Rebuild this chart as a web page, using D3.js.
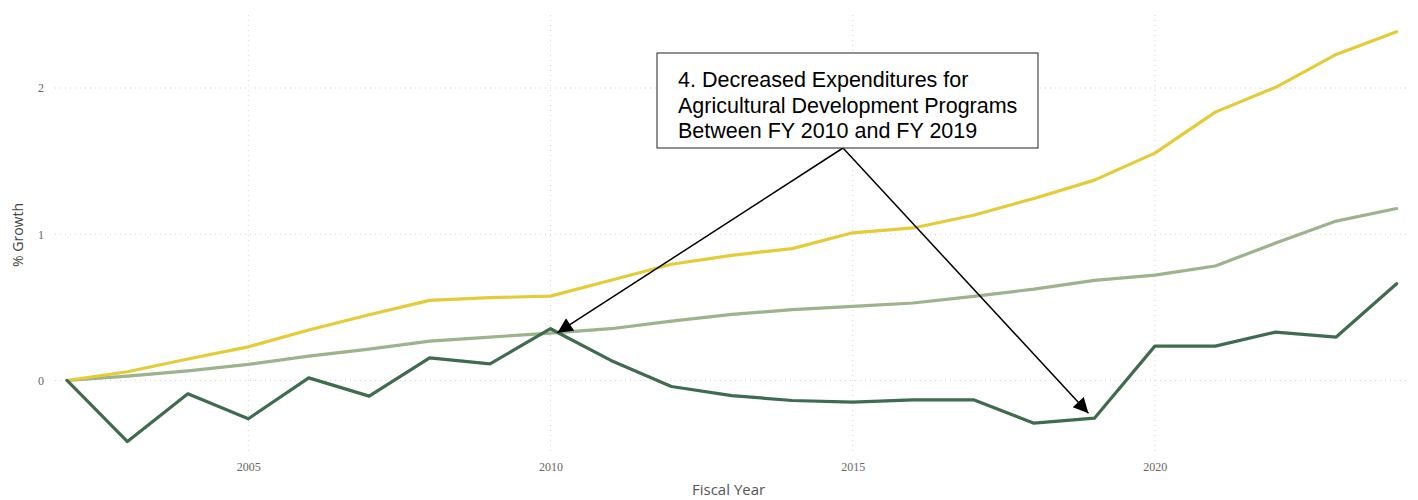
<!DOCTYPE html>
<html>
<head>
<meta charset="utf-8">
<script src="https://cdn.jsdelivr.net/npm/d3@7/dist/d3.min.js"></script>
<style>
  body { margin: 0; background: #fff; }
  svg { display: block; }
</style>
</head>
<body>
<svg id="chart" width="1418" height="500"></svg>
<script>
  var years = d3.range(2002, 2025);
  // three growth series
  var yellowSeries = [0, 0.06, 0.147, 0.23, 0.345, 0.45, 0.548, 0.566, 0.577, 0.685, 0.795, 0.856, 0.902, 1.01, 1.043, 1.13, 1.245, 1.37, 1.555, 1.835, 2.005, 2.23, 2.385];
  var lightSeries = [0, 0.03, 0.066, 0.11, 0.167, 0.215, 0.269, 0.297, 0.324, 0.354, 0.406, 0.452, 0.484, 0.507, 0.53, 0.575, 0.625, 0.685, 0.72, 0.783, 0.94, 1.09, 1.176];
  var darkSeries = [0, -0.418, -0.091, -0.262, 0.018, -0.107, 0.155, 0.114, 0.354, 0.137, -0.041, -0.103, -0.137, -0.148, -0.132, -0.132, -0.292, -0.258, 0.235, 0.235, 0.331, 0.297, 0.662];
  var xTicks = [2005, 2010, 2015, 2020];
  var yTicks = [0, 1, 2];
  var noteLines = ["4. Decreased Expenditures for", "Agricultural Development Programs", "Between FY 2010 and FY 2019"];

  var svg = d3.select("#chart");
  var x = d3.scaleLinear().domain([2002, 2024]).range([67, 1396.6]);
  var y = d3.scaleLinear().domain([-0.5, 2.5]).range([453.6, 14.9]);

  var grid = svg.append("g");
  grid.selectAll(".hg").data(yTicks).enter().append("line")
    .attr("x1", 55).attr("x2", 1408)
    .attr("y1", function(d){return y(d);}).attr("y2", function(d){return y(d);})
    .attr("stroke", "#d4d4d4").attr("stroke-width", 1).attr("stroke-dasharray", "1,4");
  grid.selectAll(".vg").data(xTicks).enter().append("line")
    .attr("x1", function(d){return x(d);}).attr("x2", function(d){return x(d);})
    .attr("y1", 15).attr("y2", 452)
    .attr("stroke", "#d4d4d4").attr("stroke-width", 1).attr("stroke-dasharray", "1,4");

  var xAxis = svg.append("g").attr("transform", "translate(0,452)")
    .call(d3.axisBottom(x).tickValues(xTicks).tickFormat(d3.format("d")).tickSize(0).tickPadding(10));
  var yAxis = svg.append("g").attr("transform", "translate(50,0)")
    .call(d3.axisLeft(y).tickValues(yTicks).tickFormat(d3.format("d")).tickSize(0).tickPadding(6));
  [xAxis, yAxis].forEach(function(a) {
    a.select(".domain").remove();
    a.selectAll("text").attr("font-family", "'Liberation Serif', 'DejaVu Serif', serif")
      .attr("font-size", 12).attr("fill", "#666");
  });

  svg.append("text").attr("transform", "translate(23,235) rotate(-90)")
    .attr("text-anchor", "middle").attr("font-family", "'Open Sans', 'Noto Sans', sans-serif")
    .attr("font-size", 14).attr("fill", "#444").text("% Growth");
  svg.append("text").attr("x", 692).attr("y", 495)
    .attr("font-family", "'Open Sans', 'Noto Sans', sans-serif")
    .attr("font-size", 15).attr("fill", "#555").text("Fiscal Year");

  var line = d3.line().x(function(d,i){return x(years[i]);}).y(function(d){return y(d);});
  var series = [
    {values: lightSeries, color: "#9db38b"},
    {values: yellowSeries, color: "#e5cb37"},
    {values: darkSeries, color: "#3f6b4f"}
  ];
  svg.selectAll(".series").data(series).enter().append("path")
    .attr("d", function(d){return line(d.values);})
    .attr("fill", "none").attr("stroke", function(d){return d.color;})
    .attr("stroke-width", 3.2).attr("stroke-linejoin", "round").attr("stroke-linecap", "round");

  // annotation box and arrows
  svg.append("defs").append("marker").attr("id", "head")
    .attr("viewBox", "0 0 10 10").attr("refX", 10).attr("refY", 5)
    .attr("markerWidth", 19).attr("markerHeight", 15).attr("markerUnits", "userSpaceOnUse")
    .attr("orient", "auto")
    .append("path").attr("d", "M0,0L10,5L0,10z").attr("fill", "#000");

  var boxX = 657, boxY = 53, boxW = 381, boxH = 95;
  var origin = [843, boxY + boxH];
  var targets = [
    [x(2010) + 7, y(darkSeries[8]) + 4],
    [x(2019) - 6, y(darkSeries[17]) - 5]
  ];
  svg.selectAll(".arrow").data(targets).enter().append("line")
    .attr("x1", origin[0]).attr("y1", origin[1])
    .attr("x2", function(d){return d[0];}).attr("y2", function(d){return d[1];})
    .attr("stroke", "#000").attr("stroke-width", 1.5).attr("marker-end", "url(#head)");

  svg.append("rect").attr("x", boxX).attr("y", boxY).attr("width", boxW).attr("height", boxH)
    .attr("fill", "#fff").attr("stroke", "#222").attr("stroke-width", 1);
  svg.selectAll(".note").data(noteLines).enter().append("text")
    .attr("x", 678).attr("y", function(d,i){return 87 + i*25.5;})
    .attr("font-family", "'Liberation Sans', Arial, sans-serif")
    .attr("font-size", 21.5).attr("fill", "#000").text(function(d){return d;});
</script>
</body>
</html>
